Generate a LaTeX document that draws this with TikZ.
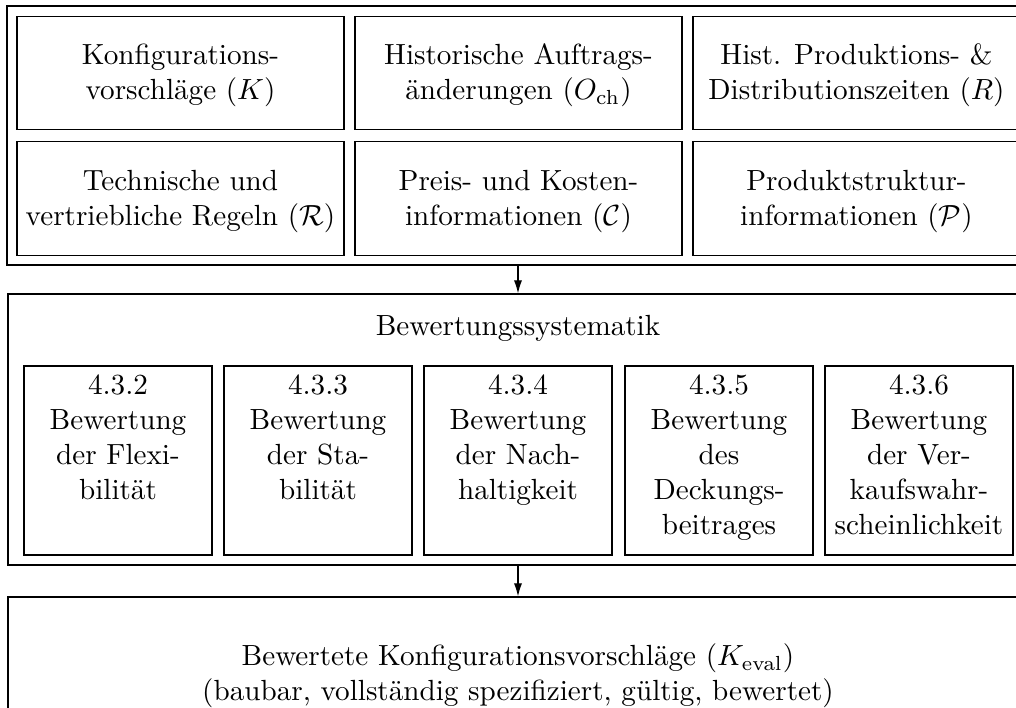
\documentclass[tikz,border=0pt]{standalone}
\usetikzlibrary{arrows.meta}

\begin{document}
\begin{tikzpicture}[
  x=0.343pt, y=-0.343pt,
  outer/.style={draw, line width=0.4pt, inner sep=0pt},
  inbox/.style={draw, line width=0.4pt, minimum width=327*0.343pt,
    minimum height=113.5*0.343pt, inner sep=0pt},
  intext/.style={align=center, inner sep=0pt},
  evbox/.style={draw, line width=0.4pt, minimum width=188*0.343pt,
    minimum height=189*0.343pt, inner sep=0pt},
  evtext/.style={anchor=north, align=center, inner sep=3pt},
  flow/.style={-{Latex[length=4.5pt,width=2.8pt]}, line width=0.4pt}
]
\useasboundingbox (0,0) rectangle (1016,707);
\clip (0,0) rectangle (1016,707);

% input data block
\node[outer, minimum width=1022*0.343pt, minimum height=259*0.343pt] (top) at (518,135.5) {};
\node[inbox] (in1) at (180.5,73)  {};
\node[inbox] (in2) at (518.5,73)  {};
\node[inbox] (in3) at (856.5,73)  {};
\node[inbox] (in4) at (180.5,198.5) {};
\node[inbox] (in5) at (518.5,198.5) {};
\node[inbox] (in6) at (856.5,198.5) {};
\node[intext] (t1) at ([yshift=-0.9pt]in1.center) {Konfigurations-\\vorschläge ($K$)};
\node[intext] (t2) at ([yshift=-0.9pt]in2.center) {Historische Auftrags-\\änderungen ($O_{\mathrm{ch}}$)};
\node[intext] (t3) at ([yshift=-0.9pt]in3.center) {Hist. Produktions- \&\\Distributionszeiten ($R$)};
\node[intext] (t4) at ([yshift=-0.9pt]in4.center) {Technische und\\vertriebliche Regeln ($\mathcal{R}$)};
\node[intext] (t5) at ([yshift=-0.9pt]in5.center) {Preis- und Kosten-\\informationen ($\mathcal{C}$)};
\node[intext] (t6) at ([yshift=-0.9pt]in6.center) {Produktstruktur-\\informationen ($\mathcal{P}$)};

% evaluation block
\node[outer, minimum width=1020*0.343pt, minimum height=271*0.343pt] (mid) at (518,429.5) {};
\node (sys) at (518,328.5) {Bewertungssystematik};
\node[evbox] (ev1) at (118,460.5) {};
\node[evbox] (ev2) at (318,460.5) {};
\node[evbox] (ev3) at (518,460.5) {};
\node[evbox] (ev4) at (719,460.5) {};
\node[evbox] (ev5) at (919,460.5) {};
\node[evtext] (e1) at (ev1.north) {4.3.2\\Bewertung\\der Flexi-\\bilität};
\node[evtext] (e2) at (ev2.north) {4.3.3\\Bewertung\\der Sta-\\bilität};
\node[evtext] (e3) at (ev3.north) {4.3.4\\Bewertung\\der Nach-\\haltigkeit};
\node[evtext] (e4) at (ev4.north) {4.3.5\\Bewertung\\des\\Deckungs-\\beitrages};
\node[evtext] (e5) at (ev5.north) {4.3.6\\Bewertung\\der Ver-\\kaufswahr-\\scheinlichkeit};

% result block
\node[outer, minimum width=1020*0.343pt, minimum height=156*0.343pt] (bot) at (518,675) {};
\node[intext] (res) at ([yshift=-0.3pt]bot.center)
  {Bewertete Konfigurationsvorschläge ($K_{\mathrm{eval}}$)\\(baubar, vollständig spezifiziert, gültig, bewertet)};

\draw[flow] (top.south) -- (mid.north);
\draw[flow] (mid.south) -- (bot.north);
\end{tikzpicture}
\end{document}
